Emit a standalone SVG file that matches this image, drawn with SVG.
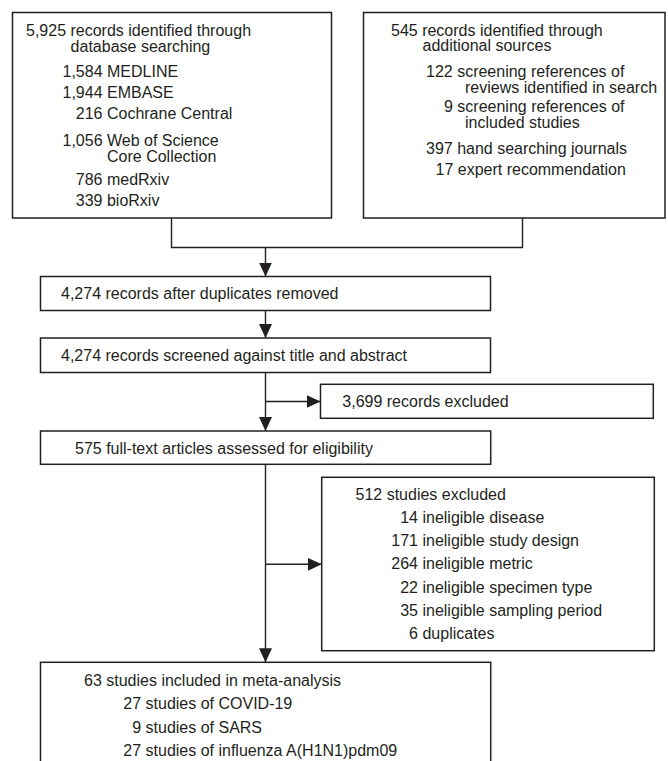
<svg xmlns="http://www.w3.org/2000/svg" width="668" height="761" viewBox="0 0 668 761">
<defs>
<style>
.box{fill:#fff;stroke:#231f20;stroke-width:1.5}
.ln{fill:none;stroke:#231f20;stroke-width:1.4}
text{font-family:"Liberation Sans",Arial,Helvetica,sans-serif;font-size:16px;fill:#231f20}
</style>
<marker id="ah" markerWidth="14" markerHeight="13" refX="14" refY="6.5" orient="auto" markerUnits="userSpaceOnUse">
<path d="M0,0 L14,6.5 L0,13 Z" fill="#231f20"/>
</marker>
</defs>
<rect width="668" height="761" fill="#fff"/>
<g id="connectors">
<path class="ln" d="M171.5,218 V247.5 H522.5 V218"/>
<path class="ln" d="M265.5,247.5 V276.5" marker-end="url(#ah)"/>
<path class="ln" d="M265.5,310.5 V338" marker-end="url(#ah)"/>
<path class="ln" d="M265.5,372.5 V431" marker-end="url(#ah)"/>
<path class="ln" d="M265.5,401.5 H320.5" marker-end="url(#ah)"/>
<path class="ln" d="M265.5,464.5 V662.3" marker-end="url(#ah)"/>
<path class="ln" d="M265.5,564.3 H321.7" marker-end="url(#ah)"/>
</g>
<g id="database">
<rect class="box" x="12.5" y="12.5" width="319" height="205.5"/>
<text x="26" y="36">5,925 records identified through</text>
<text x="70.6" y="52">database searching</text>
<text x="62.5" y="76.5">1,584 MEDLINE</text>
<text x="62.5" y="97.5">1,944 EMBASE</text>
<text x="75.8" y="118.5">216 Cochrane Central</text>
<text x="62.5" y="146">1,056 Web of Science</text>
<text x="107" y="162">Core Collection</text>
<text x="75.8" y="184.5">786 medRxiv</text>
<text x="75.8" y="205.5">339 bioRxiv</text>
</g>
<g id="additional">
<rect class="box" x="363.5" y="12.5" width="301.5" height="205.5"/>
<text x="391" y="35.7">545 records identified through</text>
<text x="422.5" y="51.2">additional sources</text>
<text x="426" y="76.7">122 screening references of</text>
<text x="465" y="92.5">reviews identified in search</text>
<text x="444" y="112.3">9 screening references of</text>
<text x="465" y="128">included studies</text>
<text x="426" y="154">397 hand searching journals</text>
<text x="435.5" y="175">17 expert recommendation</text>
</g>
<g id="dedup">
<rect class="box" x="40.5" y="276.5" width="450" height="34"/>
<text x="61" y="299.3">4,274 records after duplicates removed</text>
</g>
<g id="screened">
<rect class="box" x="40.5" y="338" width="450" height="34.5"/>
<text x="61" y="361">4,274 records screened against title and abstract</text>
</g>
<g id="excluded1">
<rect class="box" x="320.5" y="384.3" width="332.8" height="34"/>
<text x="342.3" y="407">3,699 records excluded</text>
</g>
<g id="fulltext">
<rect class="box" x="40.5" y="431" width="450.2" height="33.3"/>
<text x="75" y="453.5">575 full-text articles assessed for eligibility</text>
</g>
<g id="excluded2">
<rect class="box" x="321.7" y="477.3" width="332.6" height="173.4"/>
<text x="355.5" y="500">512 studies excluded</text>
<text x="400.2" y="522.7">14 ineligible disease</text>
<text x="391.3" y="546">171 ineligible study design</text>
<text x="391.3" y="569.3">264 ineligible metric</text>
<text x="400.2" y="592.7">22 ineligible specimen type</text>
<text x="400.2" y="616">35 ineligible sampling period</text>
<text x="409.1" y="639.3">6 duplicates</text>
</g>
<g id="included">
<rect class="box" x="40.5" y="662.3" width="450.2" height="120"/>
<text x="84" y="686">63 studies included in meta-analysis</text>
<text x="123.3" y="709.3">27 studies of COVID-19</text>
<text x="132.2" y="732.5">9 studies of SARS</text>
<text x="123.3" y="755.7">27 studies of influenza A(H1N1)pdm09</text>
</g>
</svg>
